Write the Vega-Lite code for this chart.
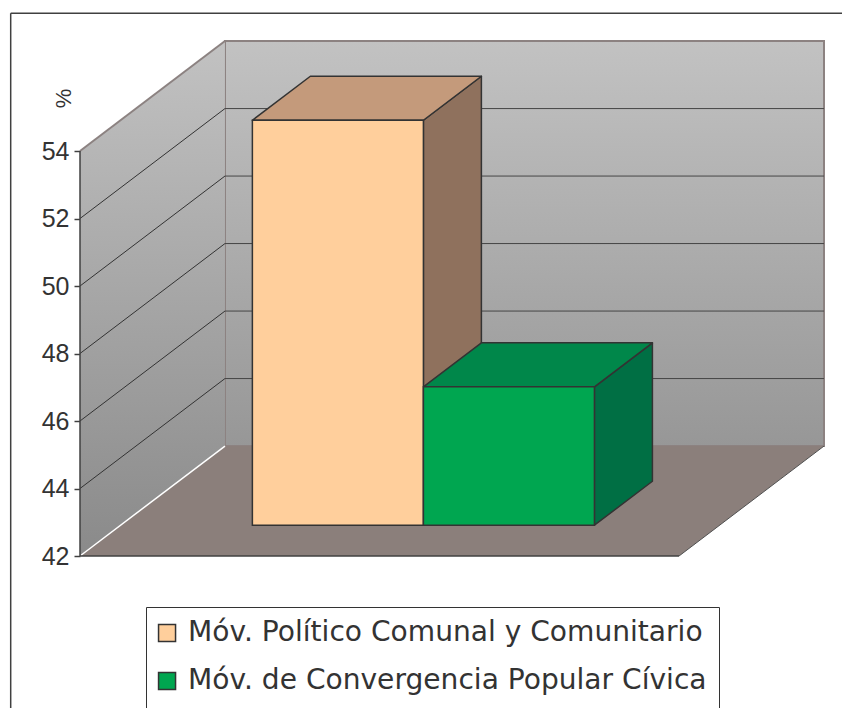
{
  "$schema": "https://vega.github.io/schema/vega-lite/v6.json",
  "width": 744,
  "height": 515,
  "autosize": {"type": "none"},
  "padding": {"left": 80, "top": 41, "right": 18, "bottom": 152},
  "background": "white",
  "params": [
    {"name": "dX", "value": 2.42},
    {"name": "dY", "value": 3.258},
    {"name": "fw", "value": 10},
    {"name": "d1", "value": 0.28},
    {"name": "d2", "value": 0.68},
    {"name": "b0", "value": 2.2},
    {"name": "bw", "value": 2.855}
  ],
  "datasets": {
    "bars": [
      {"partido": "Móv. Político Comunal y Comunitario", "pct": 54.0},
      {"partido": "Móv. de Convergencia Popular Cívica", "pct": 46.1}
    ],
    "ticks": [{"v": 42}, {"v": 44}, {"v": 46}, {"v": 48}, {"v": 50}, {"v": 52}, {"v": 54}],
    "frame": [{"depth": 0}, {"depth": 1}]
  },
  "encoding": {
    "x": {"field": "x", "type": "quantitative", "scale": {"domain": [0, 12.42], "nice": false, "zero": false}, "axis": null},
    "y": {
      "field": "y", "type": "quantitative",
      "scale": {"domain": [42, 57.26], "nice": false, "zero": false},
      "axis": {
        "values": [42, 44, 46, 48, 50, 52, 54],
        "domain": false, "grid": false,
        "tickSize": 6, "tickColor": "#404040", "tickWidth": 1.5,
        "labelFont": "Liberation Sans", "labelFontSize": 25, "labelColor": "#333333", "labelPadding": 5,
        "title": "%", "titleFont": "Liberation Sans", "titleFontSize": 22, "titleFontWeight": "normal",
        "titleColor": "#333333", "titleX": -17, "titleY": 57, "titleAngle": -90,
        "titleAlign": "center", "titleBaseline": "middle"
      }
    }
  },
  "layer": [
    {
      "data": {"name": "frame"},
      "transform": [{"filter": "datum.depth == 0"}, {"calculate": "-1.157", "as": "x"}, {"calculate": "12.75", "as": "x2"}, {"calculate": "58.08", "as": "y"}],
      "mark": {"type": "rule", "color": "#404040", "strokeWidth": 1.5},
      "encoding": {"x2": {"field": "x2"}}
    },
    {
      "data": {"name": "frame"},
      "transform": [{"filter": "datum.depth == 0"}, {"calculate": "-1.157", "as": "x"}, {"calculate": "58.08", "as": "y"}, {"calculate": "37.4", "as": "y2"}],
      "mark": {"type": "rule", "color": "#404040", "strokeWidth": 1.5},
      "encoding": {"y2": {"field": "y2"}}
    },
    {
      "data": {"name": "frame"},
      "transform": [
        {"filter": "datum.depth == 1"},
        {"calculate": "datum.depth * dX", "as": "x"},
        {"calculate": "fw + datum.depth * dX", "as": "x2"},
        {"calculate": "54 + datum.depth * dY", "as": "y"},
        {"calculate": "42 + datum.depth * dY", "as": "y2"}
      ],
      "mark": {
        "type": "rect", "stroke": "#8c8281", "strokeWidth": 2,
        "fill": {"gradient": "linear", "x1": 0, "y1": 0, "x2": 0, "y2": 1,
          "stops": [{"offset": 0, "color": "#c2c2c2"}, {"offset": 1, "color": "#979797"}]}
      },
      "encoding": {"x2": {"field": "x2"}, "y2": {"field": "y2"}}
    },
    {
      "data": {"name": "frame"},
      "transform": [
        {"calculate": "datum.depth * dX", "as": "x"},
        {"calculate": "54 + datum.depth * dY", "as": "y"},
        {"calculate": "42 + datum.depth * dY", "as": "y2"}
      ],
      "mark": {
        "type": "area", "orient": "vertical",
        "fill": {"gradient": "linear", "x1": 0, "y1": 0, "x2": 0, "y2": 1,
          "stops": [{"offset": 0, "color": "#c2c2c2"}, {"offset": 1, "color": "#8a8a8a"}]}
      },
      "encoding": {"y2": {"field": "y2"}}
    },
    {
      "data": {"name": "frame"},
      "transform": [
        {"calculate": "42 + datum.depth * dY", "as": "y"},
        {"calculate": "datum.depth * dX", "as": "x"},
        {"calculate": "fw + datum.depth * dX", "as": "x2"}
      ],
      "mark": {"type": "area", "orient": "horizontal", "fill": "#8b7f7b"},
      "encoding": {"x2": {"field": "x2"}}
    },
    {
      "data": {"name": "ticks"},
      "transform": [
        {"filter": "datum.v > 42 && datum.v < 54"},
        {"calculate": "dX", "as": "x"},
        {"calculate": "fw + dX", "as": "x2"},
        {"calculate": "datum.v + dY", "as": "y"}
      ],
      "mark": {"type": "rule", "color": "#454545", "strokeWidth": 1},
      "encoding": {"x2": {"field": "x2"}}
    },
    {
      "data": {"name": "ticks"},
      "transform": [
        {"filter": "datum.v > 42 && datum.v < 54"},
        {"calculate": "0", "as": "x"},
        {"calculate": "dX", "as": "x2"},
        {"calculate": "datum.v", "as": "y"},
        {"calculate": "datum.v + dY", "as": "y2"}
      ],
      "mark": {"type": "rule", "color": "#333333", "strokeWidth": 1},
      "encoding": {"x2": {"field": "x2"}, "y2": {"field": "y2"}}
    },
    {
      "data": {"name": "ticks"},
      "transform": [
        {"filter": "datum.v == 54"},
        {"calculate": "0", "as": "x"},
        {"calculate": "dX", "as": "x2"},
        {"calculate": "datum.v", "as": "y"},
        {"calculate": "datum.v + dY", "as": "y2"}
      ],
      "mark": {"type": "rule", "color": "#8c8281", "strokeWidth": 2},
      "encoding": {"x2": {"field": "x2"}, "y2": {"field": "y2"}}
    },
    {
      "data": {"name": "ticks"},
      "transform": [
        {"filter": "datum.v == 42"},
        {"calculate": "0", "as": "x"},
        {"calculate": "dX", "as": "x2"},
        {"calculate": "datum.v", "as": "y"},
        {"calculate": "datum.v + dY", "as": "y2"}
      ],
      "mark": {"type": "rule", "color": "#ffffff", "strokeWidth": 1.5},
      "encoding": {"x2": {"field": "x2"}, "y2": {"field": "y2"}}
    },
    {
      "data": {"name": "ticks"},
      "transform": [
        {"filter": "datum.v == 42"},
        {"calculate": "fw", "as": "x"},
        {"calculate": "fw + dX", "as": "x2"},
        {"calculate": "datum.v", "as": "y"},
        {"calculate": "datum.v + dY", "as": "y2"}
      ],
      "mark": {"type": "rule", "color": "#505050", "strokeWidth": 1},
      "encoding": {"x2": {"field": "x2"}, "y2": {"field": "y2"}}
    },
    {
      "data": {"name": "ticks"},
      "transform": [
        {"filter": "datum.v == 42"},
        {"calculate": "0", "as": "x"},
        {"calculate": "fw", "as": "x2"},
        {"calculate": "datum.v", "as": "y"}
      ],
      "mark": {"type": "rule", "color": "#404040", "strokeWidth": 1.5},
      "encoding": {"x2": {"field": "x2"}}
    },
    {
      "data": {"name": "frame"},
      "transform": [
        {"filter": "datum.depth == 0"},
        {"calculate": "0", "as": "x"},
        {"calculate": "42", "as": "y"},
        {"calculate": "54", "as": "y2"}
      ],
      "mark": {"type": "rule", "color": "#404040", "strokeWidth": 1.5},
      "encoding": {"y2": {"field": "y2"}}
    },
    {
      "data": {"name": "bars"},
      "transform": [
        {"window": [{"op": "row_number", "as": "rn"}]},
        {"calculate": "0", "as": "k0"},
        {"calculate": "1", "as": "k1"},
        {"fold": ["k0", "k1"], "as": ["kk", "s"]},
        {"calculate": "b0 + datum.rn * bw + d1 * dX + datum.s * (d2 - d1) * dX", "as": "x"},
        {"calculate": "datum.pct + d1 * dY + datum.s * (d2 - d1) * dY", "as": "y"},
        {"calculate": "42 + d1 * dY + datum.s * (d2 - d1) * dY", "as": "y2"}
      ],
      "mark": {"type": "area", "orient": "vertical", "stroke": "#333333", "strokeWidth": 1.5, "strokeJoin": "round"},
      "encoding": {
        "y2": {"field": "y2"},
        "detail": {"field": "partido"},
        "fill": {"field": "partido", "type": "nominal",
          "scale": {"domain": ["Móv. Político Comunal y Comunitario", "Móv. de Convergencia Popular Cívica"], "range": ["#8f715d", "#006f44"]},
          "legend": null}
      }
    },
    {
      "data": {"name": "bars"},
      "transform": [
        {"window": [{"op": "row_number", "as": "rn"}]},
        {"calculate": "0", "as": "k0"},
        {"calculate": "1", "as": "k1"},
        {"fold": ["k0", "k1"], "as": ["kk", "s"]},
        {"calculate": "b0 + (datum.rn - 1) * bw + d1 * dX + datum.s * (d2 - d1) * dX", "as": "x"},
        {"calculate": "datum.x + bw", "as": "x2"},
        {"calculate": "datum.pct + d1 * dY + datum.s * (d2 - d1) * dY", "as": "y"}
      ],
      "mark": {"type": "area", "orient": "horizontal", "stroke": "#333333", "strokeWidth": 1.5, "strokeJoin": "round"},
      "encoding": {
        "x2": {"field": "x2"},
        "detail": {"field": "partido"},
        "fill": {"field": "partido", "type": "nominal",
          "scale": {"domain": ["Móv. Político Comunal y Comunitario", "Móv. de Convergencia Popular Cívica"], "range": ["#c49a7b", "#00874a"]},
          "legend": null}
      }
    },
    {
      "data": {"name": "bars"},
      "transform": [
        {"window": [{"op": "row_number", "as": "rn"}]},
        {"calculate": "b0 + (datum.rn - 1) * bw + d1 * dX", "as": "x"},
        {"calculate": "datum.x + bw", "as": "x2"},
        {"calculate": "datum.pct + d1 * dY", "as": "y"},
        {"calculate": "42 + d1 * dY", "as": "y2"}
      ],
      "mark": {"type": "rect", "stroke": "#333333", "strokeWidth": 1.5},
      "encoding": {
        "x2": {"field": "x2"},
        "y2": {"field": "y2"},
        "color": {"field": "partido", "type": "nominal",
          "scale": {"domain": ["Móv. Político Comunal y Comunitario", "Móv. de Convergencia Popular Cívica"], "range": ["#ffcf9c", "#00a650"]},
          "legend": {"orient": "none", "legendX": 66, "legendY": 566, "title": null, "direction": "vertical"}}
      }
    }
  ],
  "resolve": {"scale": {"fill": "independent"}},
  "config": {
    "view": {"stroke": null},
    "legend": {
      "labelFont": "DejaVu Sans", "labelFontSize": 28.1, "labelColor": "#333333", "labelLimit": 1000,
      "symbolType": "square", "symbolSize": 289, "symbolStrokeColor": "#333333", "symbolStrokeWidth": 1.5,
      "symbolOffset": -5,
      "strokeColor": "#333333", "fillColor": "#ffffff", "padding": 12, "rowPadding": 19, "labelOffset": 7
    }
  }
}
